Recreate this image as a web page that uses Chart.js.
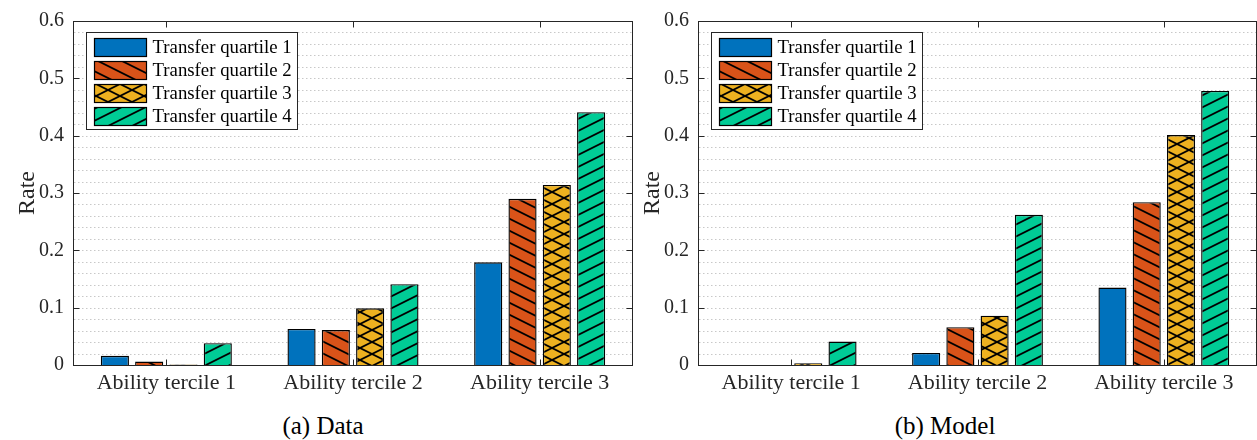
<!DOCTYPE html>
<html><head><meta charset="utf-8">
<script src="https://cdn.jsdelivr.net/npm/chart.js@4"></script>
<style>
html,body{margin:0;padding:0;background:#fff;width:1257px;height:440px;overflow:hidden}
#c1{position:absolute;left:0;top:0}
#c2{position:absolute;left:625px;top:0}
.cap{position:absolute;font-family:'Liberation Serif',serif;font-size:25px;line-height:30px;color:#000;transform:translateX(-50%);white-space:nowrap}
</style></head><body>
<canvas id="c1" width="636" height="400"></canvas>
<canvas id="c2" width="632" height="400"></canvas>
<div class="cap" style="left:323px;top:411px">(a) Data</div>
<div class="cap" style="left:945px;top:411px">(b) Model</div>
<script>
const categories = ['Ability tercile 1', 'Ability tercile 2', 'Ability tercile 3'];
const seriesLabels = ['Transfer quartile 1', 'Transfer quartile 2', 'Transfer quartile 3', 'Transfer quartile 4'];
const dataQ1 = [0.016, 0.063, 0.179];
const dataQ2 = [0.006, 0.061, 0.290];
const dataQ3 = [0.001, 0.099, 0.314];
const dataQ4 = [0.038, 0.141, 0.441];
const modelQ1 = [0.000, 0.021, 0.135];
const modelQ2 = [0.000, 0.066, 0.284];
const modelQ3 = [0.003, 0.086, 0.401];
const modelQ4 = [0.041, 0.262, 0.478];
const yTicks = [0, 0.1, 0.2, 0.3, 0.4, 0.5, 0.6];
const yTickLabels = ['0', '0.1', '0.2', '0.3', '0.4', '0.5', '0.6'];
const yAxisTitle = 'Rate';

const COLORS = ['#0072BD', '#D95319', '#EDB120', '#00CC96'];
const HATCH = ['none', 'back', 'cross', 'fwd'];
const AX = '#262626';
const SERIF = "'Liberation Serif', 'Times New Roman', serif";

function makePattern(color, kind) {
  const w = 24, h = 12;
  const c = document.createElement('canvas');
  c.width = w; c.height = h;
  const g = c.getContext('2d');
  g.fillStyle = color; g.fillRect(0, 0, w, h);
  if (kind === 'none') return color;
  g.strokeStyle = '#000'; g.lineWidth = 1.8;
  const draw = (dir) => {
    for (let k = -1; k <= 1; k++) {
      g.beginPath();
      if (dir === 'back') { g.moveTo(-4, -2 + k * h); g.lineTo(w + 4, h + 2 + k * h); }
      else { g.moveTo(-4, h + 2 + k * h); g.lineTo(w + 4, -2 + k * h); }
      g.stroke();
    }
  };
  if (kind === 'back' || kind === 'cross') draw('back');
  if (kind === 'fwd' || kind === 'cross') draw('fwd');
  return document.createElement('canvas').getContext('2d').createPattern(c, 'repeat');
}
const FILLS = COLORS.map((c, i) => makePattern(c, HATCH[i]));

const framePlugin = {
  id: 'frame',
  beforeDatasetsDraw(chart) {
    const { ctx, chartArea: a, scales: { y } } = chart;
    ctx.save();
    ctx.strokeStyle = '#c8c8c8'; ctx.lineWidth = 1; ctx.setLineDash([1.5, 2.5]);
    for (let i = 1; i < 30; i++) {
      const py = Math.round(y.getPixelForValue(i * 0.02)) + 0.5;
      ctx.beginPath(); ctx.moveTo(a.left + 1, py); ctx.lineTo(a.right - 1, py); ctx.stroke();
    }
    ctx.restore();
  },
  afterDatasetsDraw(chart) {
    const { ctx, chartArea: a, scales: { x, y } } = chart;
    ctx.save();
    ctx.strokeStyle = AX; ctx.lineWidth = 1;
    const L = Math.round(a.left) + 0.5, R = Math.round(a.right) - 0.5;
    const T = Math.round(a.top) + 0.5, B = Math.round(a.bottom) + 0.5;
    ctx.strokeRect(L, T, R - L, B - T);
    ctx.beginPath();
    yTicks.forEach(v => {
      const py = Math.round(y.getPixelForValue(v)) + 0.5;
      ctx.moveTo(L, py); ctx.lineTo(L + 6, py);
      ctx.moveTo(R, py); ctx.lineTo(R - 6, py);
    });
    categories.forEach((c, i) => {
      const px = Math.round(x.getPixelForValue(i)) + 0.5;
      ctx.moveTo(px, B); ctx.lineTo(px, B - 6);
      ctx.moveTo(px, T); ctx.lineTo(px, T + 6);
    });
    ctx.stroke();
    // legend
    const bx = L + 13, by = T + 11, bw = 211, bh = 97;
    ctx.fillStyle = '#fff'; ctx.fillRect(bx, by, bw, bh);
    ctx.strokeStyle = AX; ctx.strokeRect(bx, by, bw, bh);
    ctx.font = '18.8px ' + SERIF; ctx.textBaseline = 'middle'; ctx.textAlign = 'left';
    chart.data.datasets.forEach((ds, i) => {
      const py = by + 6 + i * 23;
      ctx.fillStyle = ds.backgroundColor;
      ctx.fillRect(bx + 8, py, 52, 18);
      ctx.strokeStyle = '#000'; ctx.lineWidth = 1.2;
      ctx.strokeRect(bx + 8, py, 52, 18);
      ctx.fillStyle = '#000';
      ctx.fillText(ds.label, bx + 66, py + 10);
    });
    ctx.restore();
  }
};

function makeChart(id, series, padRight) {
  return new Chart(document.getElementById(id), {
    type: 'bar',
    data: {
      labels: categories,
      datasets: series.map((s, i) => ({
        label: seriesLabels[i], data: s,
        backgroundColor: FILLS[i], borderColor: '#000', borderWidth: 1.4,
        categoryPercentage: 0.735, barPercentage: 0.82
      }))
    },
    options: {
      responsive: false, animation: false, devicePixelRatio: 1,
      layout: { padding: { top: 14, right: padRight, bottom: 0, left: 0 } },
      plugins: { legend: { display: false }, tooltip: { enabled: false } },
      scales: {
        x: {
          offset: true,
          grid: { display: false, drawTicks: false }, border: { display: false },
          ticks: { font: { family: SERIF, size: 22 }, color: AX, padding: 5, maxRotation: 0 },
          afterFit: s => { s.height = 35; }
        },
        y: {
          min: 0, max: 0.6,
          grid: { display: false, drawTicks: false }, border: { display: false },
          ticks: { stepSize: 0.1, font: { family: SERIF, size: 20 }, color: AX, padding: 9,
                   callback: v => yTickLabels[Math.round(v * 10)] },
          title: { display: true, text: yAxisTitle, font: { family: SERIF, size: 24 }, color: AX,
                   padding: { top: 13, bottom: 0 } },
          afterFit: s => { s.width = 73; }
        }
      }
    },
    plugins: [framePlugin]
  });
}

makeChart('c1', [dataQ1, dataQ2, dataQ3, dataQ4], 3);
makeChart('c2', [modelQ1, modelQ2, modelQ3, modelQ4], 0);
</script>
</body></html>
